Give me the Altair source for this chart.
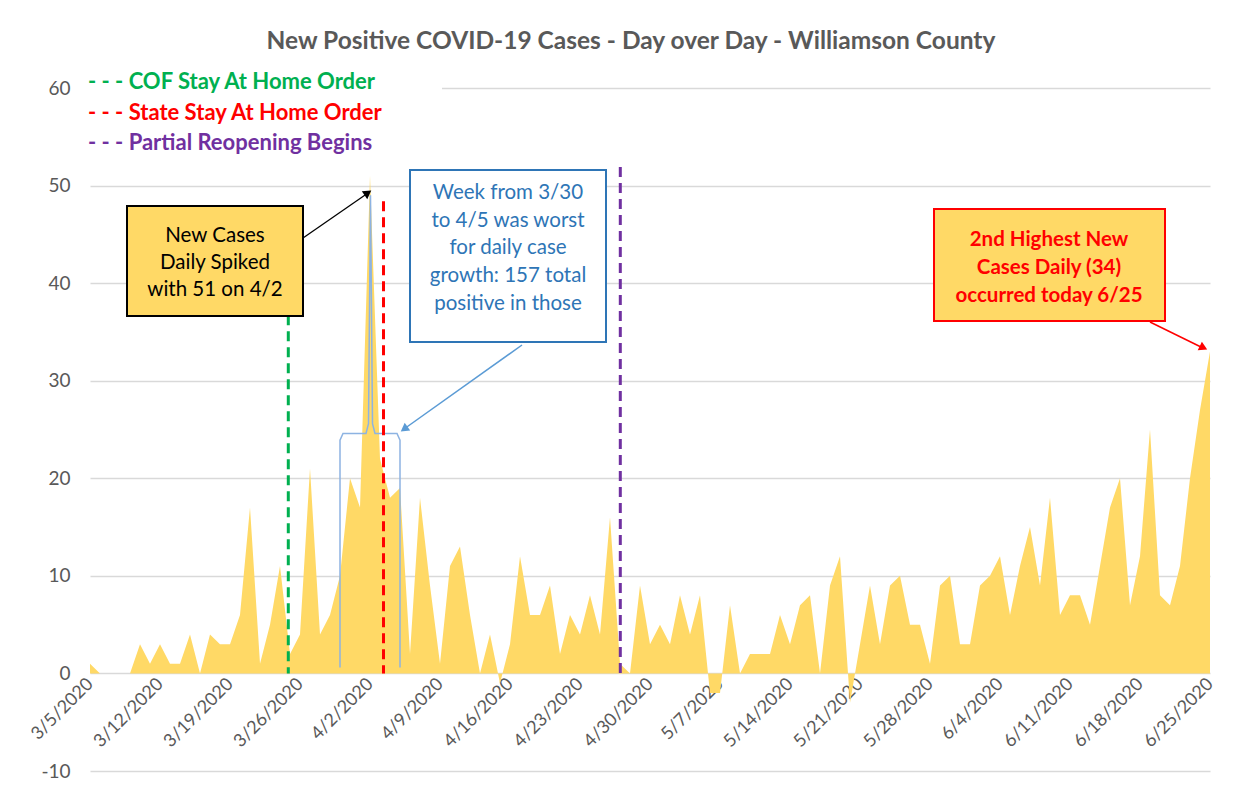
import altair as alt
import pandas as pd

# ---------------- data ----------------
start_date = "2020-03-05"
new_cases = [
    1, 0, 0, 0, 0, 3, 1, 3, 1, 1,
    4, 0, 4, 3, 3, 6, 17, 1, 5, 11,
    2, 4, 21, 4, 6, 10, 20, 17, 51, 22,
    18, 19, 2, 18, 9, 1, 11, 13, 6, 0,
    4, -1, 3, 12, 6, 6, 9, 2, 6, 4,
    8, 4, 16, 1, 0, 9, 3, 5, 3, 8,
    4, 8, -2, -2, 7, 0, 2, 2, 2, 6,
    3, 7, 8, 0, 9, 12, -3, 3, 9, 3,
    9, 10, 5, 5, 1, 9, 10, 3, 3, 9,
    10, 12, 6, 11, 15, 9, 18, 6, 8, 8,
    5, 11, 17, 20, 7, 12, 25, 8, 7, 11,
    20, 27, 33,
]
tick_labels = ["3/5/2020", "3/12/2020", "3/19/2020", "3/26/2020", "4/2/2020",
               "4/9/2020", "4/16/2020", "4/23/2020", "4/30/2020", "5/7/2020",
               "5/14/2020", "5/21/2020", "5/28/2020", "6/4/2020", "6/11/2020",
               "6/18/2020", "6/25/2020"]
y_ticks = [-10, 0, 10, 20, 30, 40, 50, 60]

event_names = ["COF Stay At Home Order", "State Stay At Home Order", "Partial Reopening Begins"]
event_days = [19.83, 29.35, 53.03]     # position in days after 3/5
event_tops = [40, 48.4, 51.9]
event_colors = ["#00B050", "#FF0000", "#7030A0"]

# bracket drawn around the week 3/30 - 4/5
brace_x = [25.0, 25.0, 25.3, 27.6, 27.85, 28.05, 28.25, 28.5, 30.7, 31.0, 31.0]
brace_y = [0.6, 23.9, 24.6, 24.6, 25.6, 49.0, 25.6, 24.6, 24.6, 23.9, 0.6]

FONT = "Lato"
GREY = "#595959"

dates = pd.date_range(start_date, periods=len(new_cases), freq="D")
df = pd.DataFrame({"day": list(range(len(new_cases))), "date": dates, "cases": new_cases})
ev = pd.DataFrame({"day": event_days, "top": event_tops, "color": event_colors, "name": event_names})
br = pd.DataFrame({"bx": brace_x, "by": brace_y, "o": list(range(len(brace_x)))})
one = pd.DataFrame({"k": [0]})

tick_days = [7 * i for i in range(len(tick_labels))]
label_expr = "[" + ",".join("'" + t + "'" for t in tick_labels) + "][round(datum.value/7)]"

x_scale = alt.Scale(domain=[0, len(new_cases) - 1], nice=False, zero=False)
y_scale = alt.Scale(domain=[-10, 60], nice=False)

area = alt.Chart(df).mark_area(color="#FFD966", opacity=1).encode(
    x=alt.X("day:Q", scale=x_scale, title=None,
            axis=alt.Axis(values=tick_days, labelExpr=label_expr, labelAngle=-45,
                          labelAlign="right", labelBaseline="middle", labelFontSize=18,
                          labelColor=GREY, labelFont=FONT, domain=False, ticks=False,
                          grid=False, offset=-97, labelPadding=7, labelOverlap=False,
                          labelBound=False, labelFlush=False)),
    y=alt.Y("cases:Q", scale=y_scale, title=None,
            axis=alt.Axis(values=y_ticks, grid=True, gridColor="#D9D9D9", gridWidth=1.3,
                          domain=False, ticks=False, labelFontSize=19, labelColor=GREY,
                          labelFont=FONT, labelPadding=20,
                          labelExpr="datum.value < 0 ? '-' + abs(datum.value) : datum.label")),
    y2=alt.datum(0),
)

brace = alt.Chart(br).mark_line(color="#8DB3E2", strokeWidth=1.5).encode(
    x="bx:Q", y="by:Q", order="o:Q")

events = alt.Chart(ev).mark_rule(strokeDash=[10, 6], strokeWidth=3).encode(
    x="day:Q", y="top:Q", y2=alt.datum(0), color=alt.Color("color:N", scale=None))

layers = [area, brace, events]

# legend block (white background hides the gridline behind it)
layers.append(alt.Chart(one).mark_rect(fill="white").encode(
    x=alt.value(-4), x2=alt.value(352), y=alt.value(-22), y2=alt.value(70)))
for i, (name, col) in enumerate(zip(event_names, event_colors)):
    layers.append(alt.Chart(one).mark_text(
        text="- - - " + name, font=FONT, fontSize=22, fontWeight="bold", color=col,
        align="left", baseline="middle").encode(
        x=alt.value(-2), y=alt.value(-6 + 30.5 * i)))

# title
layers.append(alt.Chart(one).mark_text(
    text="New Positive COVID-19 Cases - Day over Day - Williamson County",
    font=FONT, fontSize=24.5, fontWeight="bold", color=GREY,
    align="center", baseline="middle").encode(x=alt.value(541), y=alt.value(-46)))

# annotation boxes
boxes = [
    (37, 213, 118, 228, "#FFD966", "black"),
    (320, 516, 82, 254, "white", "#2E75B6"),
    (844, 1075, 121, 233, "#FFD966", "#FF0000"),
]
for x1, x2, y1, y2, fill, stroke in boxes:
    layers.append(alt.Chart(one).mark_rect(fill=fill, stroke=stroke, strokeWidth=2).encode(
        x=alt.value(x1), x2=alt.value(x2), y=alt.value(y1), y2=alt.value(y2)))

layers.append(alt.Chart(one).mark_text(
    text="New Cases\nDaily Spiked\nwith 51 on 4/2", lineBreak="\n", lineHeight=27,
    font=FONT, fontSize=20.5, color="black", align="center", baseline="middle").encode(
    x=alt.value(125), y=alt.value(148)))
layers.append(alt.Chart(one).mark_text(
    text="Week from 3/30\nto 4/5 was worst\nfor daily case\ngrowth: 157 total\npositive in those",
    lineBreak="\n", lineHeight=27.7,
    font=FONT, fontSize=20.5, color="#2E75B6", align="center", baseline="middle").encode(
    x=alt.value(418), y=alt.value(105)))
layers.append(alt.Chart(one).mark_text(
    text="2nd Highest New\nCases Daily (34)\noccurred today 6/25", lineBreak="\n", lineHeight=28,
    font=FONT, fontSize=20.5, fontWeight="bold", color="#FF0000", align="center",
    baseline="middle").encode(x=alt.value(959), y=alt.value(152)))

# arrows: (x1, y1, x2, y2, head_x, head_y, angle, colour, width)
arrows = [
    (213, 150, 278, 105, 277.9, 104.9, 55, "black", 1.3),
    (432, 257, 314, 341, 314.1, 341.1, 234.5, "#5B9BD5", 1.5),
    (1060, 234, 1113, 260, 1113.5, 259.8, 116, "#FF0000", 1.5),
]
for x1, y1, x2, y2, hx, hy, ang, col, w in arrows:
    layers.append(alt.Chart(one).mark_rule(color=col, strokeWidth=w).encode(
        x=alt.value(x1), y=alt.value(y1), x2=alt.value(x2), y2=alt.value(y2)))
    layers.append(alt.Chart(one).mark_point(
        shape="triangle-up", filled=True, size=90, angle=ang, color=col, opacity=1).encode(
        x=alt.value(hx), y=alt.value(hy)))

chart = alt.layer(*layers).properties(
    width=1120, height=683,
    autosize=alt.AutoSizeParams(type="none"),
    padding={"left": 82, "top": 80, "right": 20, "bottom": 10},
    background="white",
).configure_view(strokeWidth=0)

chart.save("out.html", embed_options={"renderer": "svg", "actions": False})
